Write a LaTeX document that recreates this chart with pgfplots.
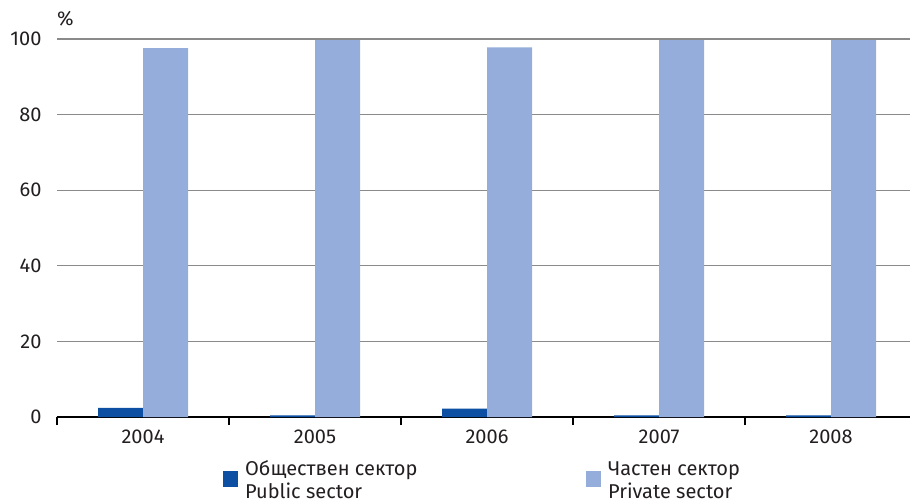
\documentclass[border=0pt]{standalone}
\usepackage{pgfplots}
\pgfplotsset{compat=1.18}
\usepackage{fontspec}
\setmainfont{Fira Sans}
\definecolor{pubc}{HTML}{0D4FA2}
\definecolor{privc}{HTML}{94ADDA}
\definecolor{gridc}{HTML}{8A8A8A}
\definecolor{txt}{HTML}{231F20}
\pgfplotsset{sqlegend/.style={legend image code/.code={\fill[##1] (0pt,-11.3pt) rectangle (15pt,4.3pt);}}}

\begin{document}
\begin{tikzpicture}
  \begin{axis}[
    scale only axis,
    width=853pt, height=378pt,
    ybar=0pt, bar width=45pt,
    xmin=-0.5, xmax=4.459,
    ymin=0, ymax=100,
    axis x line*=bottom, axis y line*=left,
    y axis line style={draw=none},
    x axis line style={line width=1.6pt, black, -},
    xtick={0,1,2,3,4},
    xticklabels={2004,2005,2006,2007,2008},
    minor xtick={-0.5,0.5,1.5,2.5,3.5},
    major tick length=0pt,
    minor tick length=8pt,
    tick align=outside,
    minor x tick style={black, line width=1.6pt},
    ytick={0,20,40,60,80,100},
    ymajorgrids=true,
    grid style={gridc, line width=1.3pt},
    tick label style={font=\fontsize{20}{22}\selectfont, text=txt},
    /pgf/number format/assume math mode=true,
    yticklabel style={xshift=-12pt},
    xticklabel style={yshift=-9pt},
    legend columns=2,
    legend style={
      at={(0.1910,0)}, anchor=north west, yshift=-38pt,
      draw=none, fill=none,
      font=\fontsize{20}{23}\selectfont, text=txt,
      cells={anchor=base west},
    },
  ]
    \addplot[fill=pubc, draw=none, sqlegend]
      coordinates {(0,2.4) (1,0.4) (2,2.2) (3,0.4) (4,0.4)};
    \addlegendentry{\makebox[344pt][l]{\hspace{5pt}\begin{tabular}[t]{@{}l@{}}Обществен сектор\\Public sector\end{tabular}}}

    \addplot[fill=privc, draw=none, sqlegend]
      coordinates {(0,97.6) (1,99.7) (2,97.8) (3,99.7) (4,99.7)};
    \addlegendentry{\hspace{5pt}\begin{tabular}[t]{@{}l@{}}Частен сектор\\Private sector\end{tabular}}

    \coordinate (o) at (rel axis cs:0,0);
  \end{axis}
  \node[anchor=base west, inner sep=0pt, font=\fontsize{20}{22}\selectfont, text=txt]
    at ([yshift=391pt]o) {\%};
  \pgfresetboundingbox
  \path[use as bounding box] (o) ++(-57pt,-86pt) rectangle ++(910pt,503pt);
\end{tikzpicture}
\end{document}
